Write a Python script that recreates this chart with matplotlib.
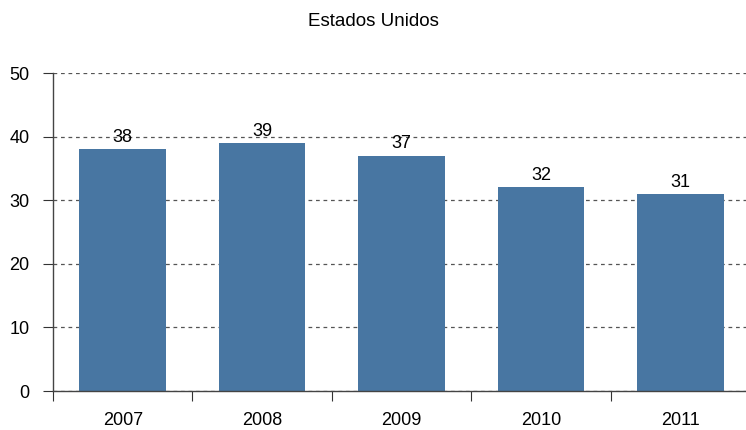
import matplotlib
matplotlib.use("Agg")
import matplotlib.pyplot as plt
import numpy as np

plt.rcParams['font.family'] = ['Liberation Sans', 'DejaVu Sans']

years = ["2007", "2008", "2009", "2010", "2011"]
values = [38, 39, 37, 32, 31]
title = "Estados Unidos"
yticks = [0, 10, 20, 30, 40, 50]

fig = plt.figure(figsize=(7.46, 4.30), dpi=100)
ax = fig.add_axes([53/746, 39/430, 697/746, 318/430])

x = np.arange(len(years))
bars = ax.bar(x, values, width=0.62, color='#4876A2', zorder=2)
for xi, v in zip(x, values):
    ax.text(xi, v + 0.5, str(v), ha='center', va='bottom', fontsize=13, zorder=3)

ax.set_xlim(-0.5, len(years) - 0.5)
ax.set_ylim(0, 50)
ax.set_yticks(yticks)
ax.set_yticklabels([str(t) for t in yticks], fontsize=13)
ax.yaxis.grid(True, linestyle=(0, (3, 3)), color='#555555', linewidth=0.9, zorder=1)
ax.set_axisbelow(True)

ax.set_xticks(np.arange(-0.5, len(years), 1.0))
ax.set_xticklabels([])
ax.set_xticks(x, minor=True)
ax.set_xticklabels(years, minor=True, fontsize=13)
ax.tick_params(axis='x', which='major', length=7, direction='out', color='#333333')
ax.tick_params(axis='x', which='minor', length=0, pad=15)
ax.tick_params(axis='y', length=7, direction='out', color='#333333', pad=10)

for s in ['top', 'right']:
    ax.spines[s].set_visible(False)
for s in ['left', 'bottom']:
    ax.spines[s].set_color('#444444')
    ax.spines[s].set_linewidth(1.0)

fig.text(0.5, 1 - 21/430, title, ha='center', va='center', fontsize=13.5)

fig.savefig("out.png", dpi=100)
